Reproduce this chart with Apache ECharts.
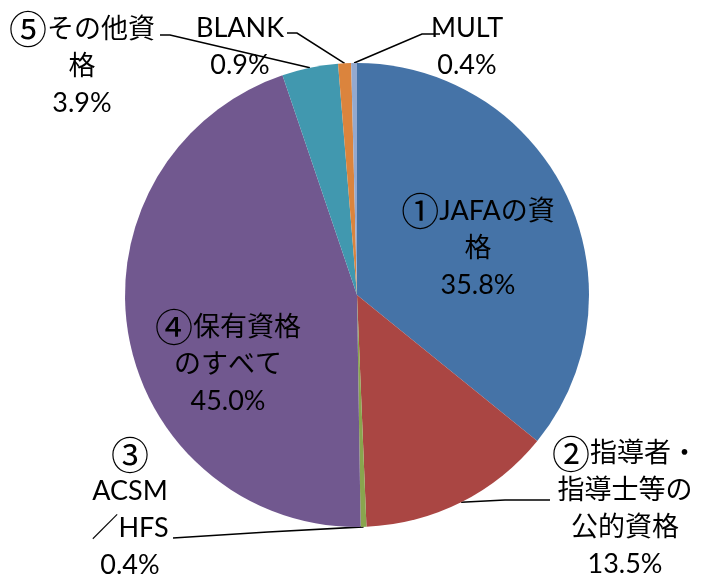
<!DOCTYPE html>
<html><head><meta charset="utf-8">
<script src="https://cdn.jsdelivr.net/npm/echarts@6/dist/echarts.min.js"></script>
<style>html,body{margin:0;padding:0;background:#fff}#c{width:703px;height:578px}</style>
</head><body><div id="c"></div>
<script>
const categories = ['①JAFAの資\n格', '②指導者・\n指導士等の\n公的資格', '③\nACSM\n／HFS', '④保有資格\nのすべて', '⑤その他資\n格', 'BLANK', 'MULT'];
const values = [35.8, 13.5, 0.4, 45.0, 3.9, 0.9, 0.4];
const colors = ['#4573A7', '#AA4643', '#89A54E', '#71588F', '#4198AF', '#DB843D', '#93A9CF'];

// label placement (centers) and leader line bends
const labelPos = [[478, 248], [625, 509], [130, 510], [228, 364], [82, 66], [240, 47], [467, 47]];
const lineBends = [null, [[505, 500], [550, 500]], [[268, 532], [173, 538]], null, [[170, 35], [160, 35]], [[297, 33], [287, 33]], [[422, 34], [440, 34]]];

const CX = 357, CY = 295, R = 232;
const total = values.reduce((a, b) => a + b, 0);

const chart = echarts.init(document.getElementById('c'), null, {renderer: 'canvas'});
chart.setOption({
  backgroundColor: '#fff',
  animation: false,
  series: [{
    type: 'pie',
    center: [CX, CY],
    radius: [0, R],
    startAngle: 90,
    clockwise: true,
    avoidLabelOverlap: false,
    itemStyle: {borderWidth: 0},
    label: {
      show: true,
      position: 'outside',
      color: '#000',
      fontFamily: 'Lato, "Noto Sans CJK JP", sans-serif',
      fontSize: 27,
      lineHeight: 37,
      align: 'center',
      formatter: p => p.name.replace(/[①-⑤]/g, '{c|$&}') + '\n' + p.value.toFixed(1) + '%',
      rich: {
        c: {fontFamily: '"Noto Sans CJK JP", sans-serif', fontSize: 38, lineHeight: 37, color: '#000', verticalAlign: 'middle'}
      }
    },
    labelLine: {show: true, lineStyle: {color: '#000', width: 1.6}},
    labelLayout: function (params) {
      const i = params.dataIndex;
      const res = {x: labelPos[i][0], y: labelPos[i][1], align: 'center', verticalAlign: 'middle'};
      if (lineBends[i]) {
        let start;
        if (params.labelLinePoints && params.labelLinePoints[0]) {
          start = params.labelLinePoints[0];
        } else {
          let before = 0;
          for (let k = 0; k < i; k++) before += values[k];
          const a = (before + values[i] / 2) / total * 2 * Math.PI;
          start = [CX + R * Math.sin(a), CY - R * Math.cos(a)];
        }
        res.labelLinePoints = [start, lineBends[i][0], lineBends[i][1]];
      }
      return res;
    },
    data: categories.map((c, i) => ({
      name: c,
      value: values[i],
      itemStyle: {color: colors[i]},
      labelLine: {show: lineBends[i] !== null}
    }))
  }]
});
</script></body></html>
